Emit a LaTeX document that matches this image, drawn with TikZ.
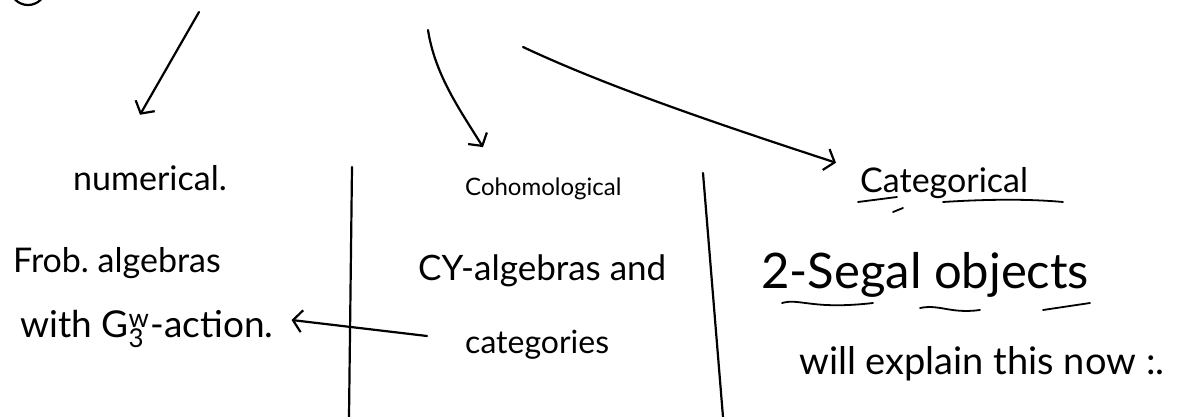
\documentclass[tikz,border=0pt]{standalone}
\usepackage{fontspec}
\setmainfont{Lato}
\usetikzlibrary{arrows.meta,calc}
\newcommand\fsz[1]{\fontsize{#1}{#1}\selectfont}
\begin{document}
\begin{tikzpicture}[x=1pt,y=-1pt,
  hand/.style={line width=2.2pt, line cap=round, line join=round},
  harrow/.style={hand, -{Straight Barb[length=9pt,width=22pt,line width=2.2pt]}},
  uline/.style={line width=1.8pt, line cap=round},
  lbl/.style={anchor=base west, inner sep=0pt, text=black},
]
\useasboundingbox (0,0) rectangle (1199,417);
% partial circle at the top-left corner
\draw[hand] (28,-13) circle[radius=18];
% labels
\node[lbl, font=\fsz{34}] (num) at (73,190) {numerical.};
\node[lbl, font=\fsz{34}] (frob) at (13,272) {Frob.\ algebras};
\node[lbl, font=\fsz{37}] (with) at (20,337) {with G\rlap{\textsubscript{3}}\textsuperscript{w}\kern1pt-action.};
\node[lbl, font=\fsz{24}] (coh) at (465,195) {Cohomological};
\node[lbl, font=\fsz{35}] (cy) at (418,280) {CY-algebras and};
\node[lbl, font=\fsz{32}] (cats) at (465,353) {categories};
\node[lbl, font=\fsz{34}] (cat) at (860,192) {Categorical};
\node[lbl, font=\fsz{49}] (seg) at (761,288) {2-Segal objects};
\node[lbl, font=\fsz{38}] (expl) at (799,374) {will explain this now :.};
% dividers
\draw[hand] (352,167) -- (349,417);
\draw[hand] (703,173) -- (723,417);
% connectors
\coordinate (s1) at (199,12);
\coordinate (s2) at (428,30);
\coordinate (s3) at (523,47);
\draw[harrow] (s1) -- ($(num.north west)+(67,-50)$);
\draw[harrow] (s2) .. controls (435,75) and (460,110) .. ($(coh.north west)+(18,-30)$);
\draw[harrow] (s3) .. controls (610,88) and (730,128) .. ($(cat.north west)+(-24,-4)$);
\draw[harrow] ($(cats.base west)+(-38,-17)$) -- ($(with.base east)+(18,-17)$);
% underlines
\draw[uline] (858,202) -- (897,197);
\draw[uline] (943,202) .. controls (990,199) and (1030,199) .. (1063,202);
\draw[uline] (893,212) -- (903,208);
\draw[uline] (782,303) .. controls (800,298) and (812,310) .. (873,303);
\draw[uline] (920,308) .. controls (940,304) and (950,314) .. (980,310);
\draw[uline] (1043,310) -- (1090,303);
\end{tikzpicture}
\end{document}
